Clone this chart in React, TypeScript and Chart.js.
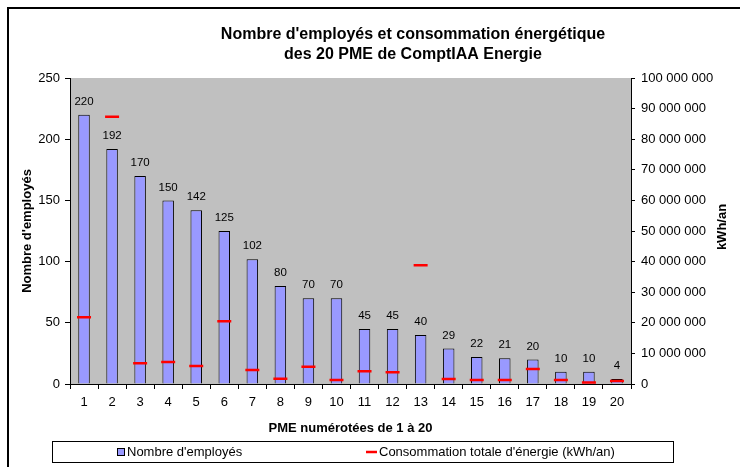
import React, { useEffect, useRef } from 'react';
import { Chart, registerables } from 'chart.js';
Chart.register(...registerables);

const categories = ['1', '2', '3', '4', '5', '6', '7', '8', '9', '10', '11', '12', '13', '14', '15', '16', '17', '18', '19', '20'];
const employees = [220, 192, 170, 150, 142, 125, 102, 80, 70, 70, 45, 45, 40, 29, 22, 21, 20, 10, 10, 4];
const energy = [21800000, 87300000, 6800000, 7200000, 5900000, 20500000, 4600000, 1700000, 5600000, 1300000, 4200000, 3800000, 38800000, 1600000, 1300000, 1300000, 4900000, 1300000, 500000, 1000000];

const titleLines = ["Nombre d'employés et consommation énergétique", 'des 20 PME de ComptIAA Energie'];
const xTitle = 'PME numérotées de 1 à 20';
const yLeftTitle = "Nombre d'employés";
const yRightTitle = 'kWh/an';
const seriesNames = ["Nombre d'employés", "Consommation totale d'énergie (kWh/an)"];

const FONT = '"Liberation Sans", Arial, sans-serif';
const BAR_FILL = '#9999FF';
const RED = '#FF0000';

const fmtSpace = (v: number) => String(Math.round(v)).replace(/\B(?=(\d{3})+(?!\d))/g, ' ');

const decor = {
  id: 'decor',
  beforeDraw(chart: any) {
    const { ctx, chartArea: a } = chart;
    ctx.save();
    ctx.fillStyle = '#ffffff';
    ctx.fillRect(0, 0, chart.width, chart.height);
    ctx.fillStyle = '#C0C0C0';
    ctx.fillRect(a.left, a.top, a.right - a.left, a.bottom - a.top);
    ctx.restore();
  },
  afterDraw(chart: any) {
    const { ctx, chartArea: a } = chart;
    ctx.save();
    // outer frame
    ctx.strokeStyle = '#000';
    ctx.lineWidth = 2;
    ctx.strokeRect(8, 8, 800, 600);

    // title
    ctx.fillStyle = '#000';
    ctx.textAlign = 'center';
    ctx.textBaseline = 'middle';
    ctx.font = `bold 16px ${FONT}`;
    ctx.fillText(titleLines[0], 413, 35);
    ctx.fillText(titleLines[1], 413, 55);

    // x axis title
    ctx.font = `bold 13px ${FONT}`;
    ctx.fillText(xTitle, (a.left + a.right) / 2, 428);

    // y titles
    const midY = (a.top + a.bottom) / 2;
    ctx.save();
    ctx.translate(27, midY);
    ctx.rotate(-Math.PI / 2);
    ctx.fillText(yLeftTitle, 0, 0);
    ctx.restore();
    ctx.save();
    ctx.translate(722, midY - 4);
    ctx.rotate(-Math.PI / 2);
    ctx.fillText(yRightTitle, 0, 0);
    ctx.restore();

    // data labels
    ctx.font = `11.5px ${FONT}`;
    const meta = chart.getDatasetMeta(0);
    meta.data.forEach((el: any, i: number) => {
      ctx.fillText(String(employees[i]), el.x, el.y - 13);
    });

    // legend
    ctx.lineWidth = 1;
    ctx.strokeStyle = '#000';
    ctx.strokeRect(52.5, 441.5, 621, 21);
    ctx.fillStyle = BAR_FILL;
    ctx.fillRect(117.5, 448.5, 7, 7);
    ctx.strokeRect(117.5, 448.5, 7, 7);
    ctx.fillStyle = '#000';
    ctx.textAlign = 'left';
    ctx.font = `13px ${FONT}`;
    ctx.fillText(seriesNames[0], 127, 452);
    ctx.strokeStyle = RED;
    ctx.lineWidth = 2.5;
    ctx.beginPath();
    ctx.moveTo(366, 452);
    ctx.lineTo(377, 452);
    ctx.stroke();
    ctx.fillText(seriesNames[1], 379, 452);
    ctx.restore();
  },
};

export default function App() {
  const ref = useRef<HTMLCanvasElement>(null);
  useEffect(() => {
    document.body.style.margin = '0';
    const chart = new Chart(ref.current as HTMLCanvasElement, {
      type: 'bar',
      data: {
        labels: categories,
        datasets: [
          {
            type: 'bar',
            label: seriesNames[0],
            data: employees,
            backgroundColor: BAR_FILL,
            borderColor: '#000',
            borderWidth: 1,
            categoryPercentage: 1,
            barPercentage: 0.41,
            yAxisID: 'y',
            order: 2,
          },
          {
            type: 'line',
            label: seriesNames[1],
            data: energy,
            showLine: false,
            pointStyle: 'line',
            pointRadius: 7,
            pointHoverRadius: 7,
            borderColor: RED,
            backgroundColor: RED,
            borderWidth: 2.5,
            yAxisID: 'y1',
            order: 1,
          } as any,
        ],
      },
      options: {
        animation: false,
        responsive: false,
        devicePixelRatio: 1,
        layout: { padding: { top: 78, left: 0, right: 0, bottom: 0 } },
        plugins: { legend: { display: false }, title: { display: false }, tooltip: { enabled: false } },
        events: [],
        scales: {
          x: {
            afterFit: (s: any) => { s.height = 83; },
            grid: { offset: true, drawOnChartArea: false, tickLength: 5, color: '#000', tickColor: '#000' },
            border: { color: '#000', width: 1 },
            ticks: { color: '#000', font: { family: FONT, size: 13 }, padding: 6, maxRotation: 0, autoSkip: false },
          },
          y: {
            position: 'left',
            min: 0,
            max: 250,
            afterFit: (s: any) => { s.width = 70; },
            grid: { drawOnChartArea: false, tickLength: 5, color: '#000', tickColor: '#000' },
            border: { color: '#000', width: 1 },
            ticks: { stepSize: 50, color: '#000', font: { family: FONT, size: 13 }, padding: 5 },
          },
          y1: {
            position: 'right',
            min: 0,
            max: 100000000,
            afterFit: (s: any) => { s.width = 109; },
            grid: { drawOnChartArea: false, tickLength: 4, color: '#000', tickColor: '#000' },
            border: { color: '#000', width: 1 },
            ticks: { stepSize: 10000000, color: '#000', font: { family: FONT, size: 13 }, padding: 6, callback: (v: any) => fmtSpace(Number(v)) },
          },
        },
      } as any,
      plugins: [decor],
    });
    return () => chart.destroy();
  }, []);
  return (
    <div style={{ position: 'absolute', left: 0, top: 0, width: 740, height: 467 }}>
      <canvas ref={ref} width={740} height={467} style={{ width: 740, height: 467, display: 'block' }} />
    </div>
  );
}
